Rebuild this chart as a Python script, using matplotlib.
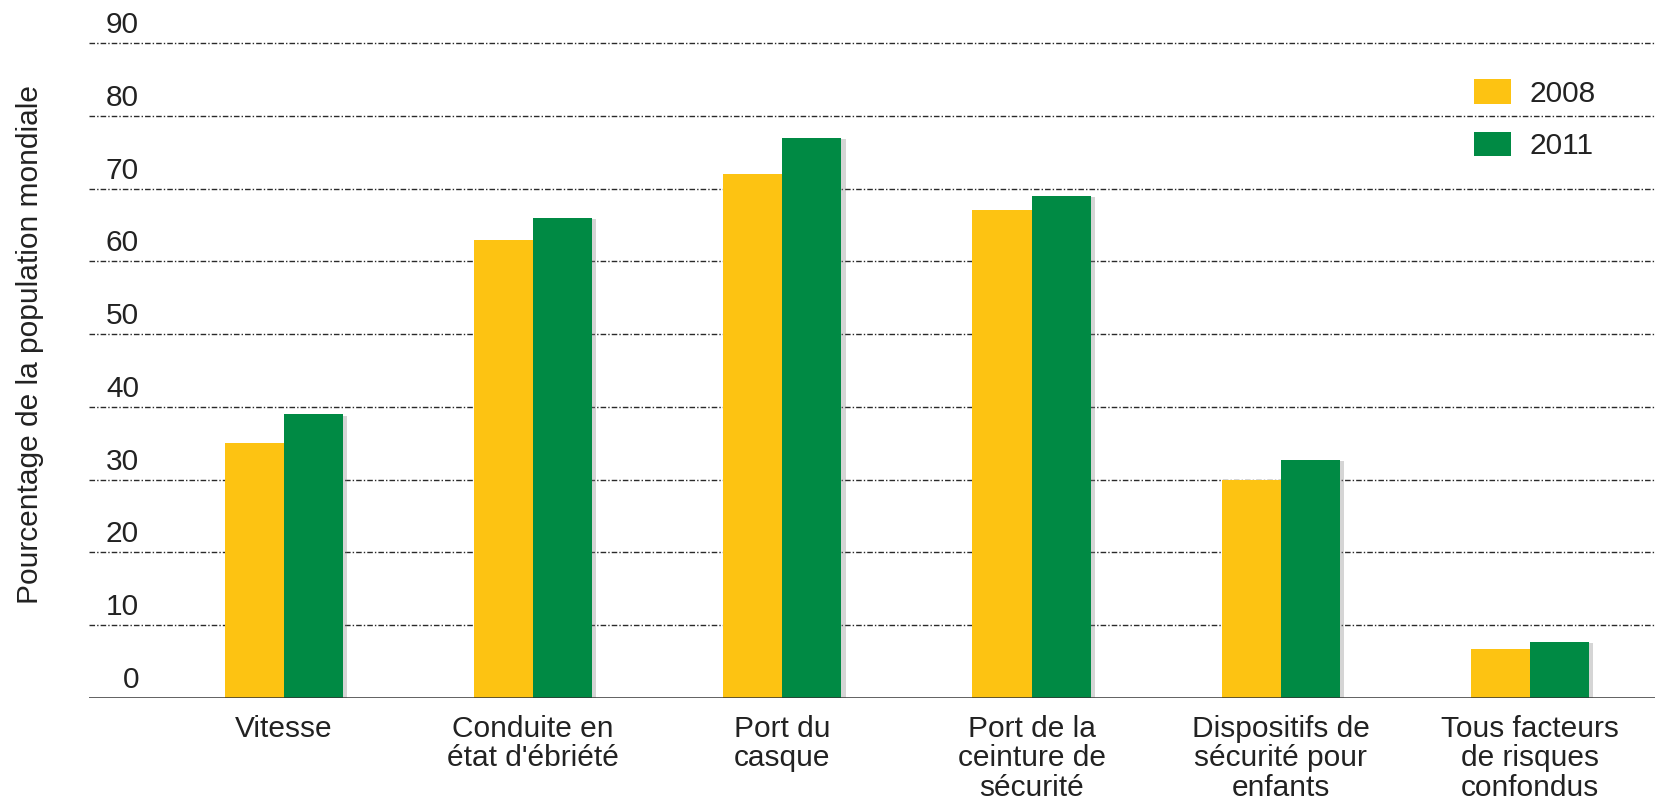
import matplotlib
matplotlib.use("Agg")
import matplotlib.pyplot as plt
import matplotlib.patheffects as pe
from matplotlib.transforms import ScaledTranslation
from matplotlib.patches import Patch

categories = ["Vitesse", "Conduite en\nétat d'ébriété", "Port du\ncasque",
              "Port de la\nceinture de\nsécurité", "Dispositifs de\nsécurité pour\nenfants",
              "Tous facteurs\nde risques\nconfondus"]
series_names = ["2008", "2011"]
values_2008 = [35, 63, 72, 67, 30, 6.8]
values_2011 = [39, 66, 77, 69, 32.7, 7.7]
y_ticks = [0, 10, 20, 30, 40, 50, 60, 70, 80, 90]
y_label = "Pourcentage de la population mondiale"

plt.rcParams["font.family"] = ["Liberation Sans", "DejaVu Sans"]

c2008 = "#FDC312"
c2011 = "#008A44"
txt = "#222222"
fs = 21.5

fig = plt.figure(figsize=(16.56, 7.99), dpi=100)
W, H = 1656, 799
ax = fig.add_axes([89 / W, 1 - 698 / H, (1655 - 89) / W, (698 - 39.5) / H])

x = list(range(len(categories)))
bw = 0.237

shadow = [pe.SimplePatchShadow(offset=(3, -1), shadow_rgbFace="#888888", alpha=0.35), pe.Normal()]
b1 = ax.bar([i - bw / 2 for i in x], values_2008, width=bw, color=c2008, zorder=3)
b2 = ax.bar([i + bw / 2 for i in x], values_2011, width=bw, color=c2011, zorder=3)
for b in list(b1) + list(b2):
    b.set_path_effects(shadow)

ax.set_xlim(-0.781, 5.501)
ax.set_ylim(0, 90.5)

for t in y_ticks[1:]:
    ax.axhline(t, color="#2a2a2a", lw=1.0, linestyle=(0, (4, 1.5, 1, 1.5)), zorder=1)
ax.axhline(0, color="#333333", lw=1.8, zorder=4)

for s in ax.spines.values():
    s.set_visible(False)

ax.set_yticks(y_ticks)
ax.set_yticklabels([str(v) for v in y_ticks], fontsize=fs, color=txt)
ax.tick_params(axis="y", length=0, pad=-36)
for lab in ax.get_yticklabels():
    lab.set_horizontalalignment("right")
    lab.set_transform(lab.get_transform() + ScaledTranslation(0, 21 / 100, fig.dpi_scale_trans))

ax.set_xticks(x)
ax.set_xticklabels(categories, fontsize=fs, color=txt, linespacing=1.08)
ax.tick_params(axis="x", length=0, pad=12)

fig.text(30 / W, 1 - 344 / H, y_label, rotation=90, ha="center", va="center",
         fontsize=fs, color=txt)

handles = [Patch(facecolor=c2008), Patch(facecolor=c2011)]
ax.legend(handles, series_names, loc="upper left", bbox_to_anchor=(1474 / W, 1 - 79 / H),
          bbox_transform=fig.transFigure, frameon=False, fontsize=fs,
          handlelength=1.25, handleheight=0.9, handletextpad=0.6, labelspacing=0.8,
          borderpad=0, borderaxespad=0, labelcolor=txt)

fig.savefig("out.png", dpi=100, facecolor="white")
